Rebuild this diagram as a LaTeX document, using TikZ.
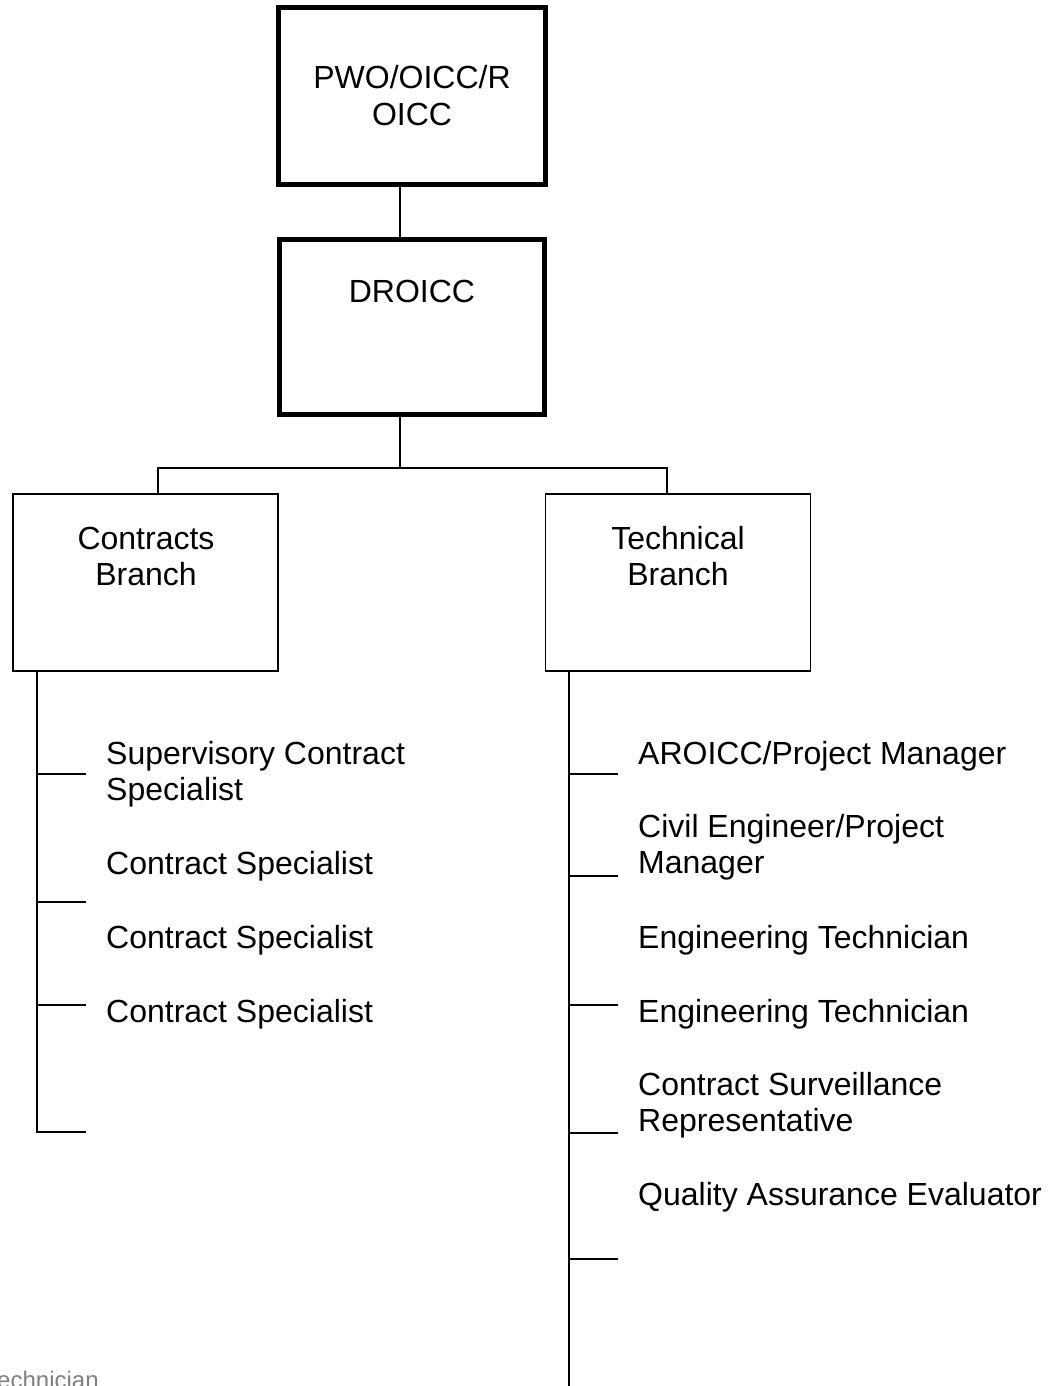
\documentclass[tikz,border=0pt]{standalone}
\usepackage{fontspec}
\setmainfont{Liberation Sans}
\begin{document}
\begin{tikzpicture}[x=1pt,y=-1pt,
  heavybox/.style={draw, line width=5pt, inner sep=0pt},
  lightbox/.style={draw, line width=1.8pt, inner sep=0pt, minimum width=265pt, minimum height=177pt},
  wire/.style={line width=1.8pt, line join=miter},
  caption/.style={inner sep=0pt, font=\fontsize{32}{36}\selectfont},
  faint/.style={inner sep=0pt, text=black!50, font=\fontsize{24}{28}\selectfont}]

% page area
\fill[white] (0,0) rectangle (1055,1386);
\clip (0,0) rectangle (1055,1386);

% boxes
\node[heavybox, minimum width=267pt, minimum height=177pt] (pwo) at (412,96) {};
\node[heavybox, minimum width=265pt, minimum height=175pt] (droicc) at (412,327) {};
\node[lightbox] (contracts) at (145.5,582.5) {};
\node[lightbox] (technical) at (678,582.5) {};

% box titles
\node[caption, anchor=base] (pwot) at (412,89)
  {\begin{tabular}[t]{@{}c@{}}PWO/OICC/R\\OICC\end{tabular}};
\node[caption, anchor=base] (droicct) at (412,302) {DROICC};
\node[caption, anchor=base] (contractst) at (146,549)
  {\begin{tabular}[t]{@{}c@{}}Contracts\\Branch\end{tabular}};
\node[caption, anchor=base] (technicalt) at (678,549)
  {\begin{tabular}[t]{@{}c@{}}Technical\\Branch\end{tabular}};

% upper connectors
\coordinate (spine) at (400,0);
\coordinate (bus) at (400,468);
\coordinate (busL) at (158,468);
\coordinate (busR) at (667,468);
\draw[wire] (pwo.south -| spine) -- (droicc.north -| spine);
\draw[wire] (droicc.south -| bus) -- (bus);
\draw[wire] (contracts.north -| busL) -- (busL) -- (busR) -- (technical.north -| busR);

% contracts rail
\coordinate (railL) at (37,1132);
\coordinate (railLend) at (86,1132);
\draw[wire] (contracts.south -| railL) -- (railL) -- (railLend);
\foreach \y [count=\i] in {774,902,1005} {
  \coordinate (cl\i) at (37,\y);
  \coordinate (cle\i) at (86,\y);
  \draw[wire] (cl\i) -- (cle\i);
}

% technical rail
\coordinate (railR) at (569,1400);
\draw[wire] (technical.south -| railR) -- (railR);
\foreach \y [count=\i] in {774,876,1005,1133,1259} {
  \coordinate (cr\i) at (569,\y);
  \coordinate (cre\i) at (618,\y);
  \draw[wire] (cr\i) -- (cre\i);
}

% contracts staff
\node[caption, anchor=base west] (sup) at (106,764)
  {\begin{tabular}[t]{@{}l@{}}Supervisory Contract\\Specialist\end{tabular}};
\node[caption, anchor=base west] (cs1) at (106,874) {Contract Specialist};
\node[caption, anchor=base west] (cs2) at (106,948) {Contract Specialist};
\node[caption, anchor=base west] (cs3) at (106,1022) {Contract Specialist};

% technical staff
\node[caption, anchor=base west] (aroicc) at (638,764) {AROICC/Project Manager};
\node[caption, anchor=base west] (civil) at (638,837)
  {\begin{tabular}[t]{@{}l@{}}Civil Engineer/Project\\Manager\end{tabular}};
\node[caption, anchor=base west] (et1) at (638,948) {Engineering Technician};
\node[caption, anchor=base west] (et2) at (638,1022) {Engineering Technician};
\node[caption, anchor=base west] (csr) at (638,1095)
  {\begin{tabular}[t]{@{}l@{}}Contract Surveillance\\Representative\end{tabular}};
\node[caption, anchor=base west] (qae) at (638,1205) {Quality Assurance Evaluator};

% text running off the lower edge
\node[faint, anchor=base west] (tail) at (-15,1388) {Technician};
\end{tikzpicture}
\end{document}
